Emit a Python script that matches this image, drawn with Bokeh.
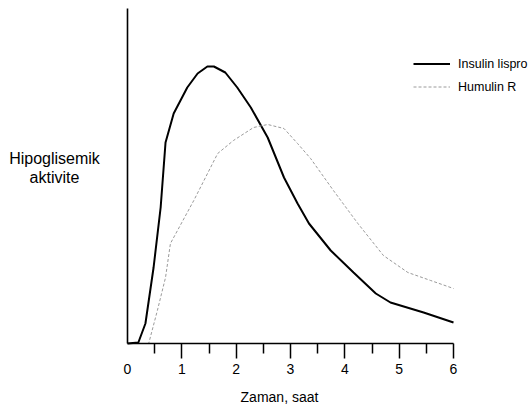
from bokeh.plotting import figure
from bokeh.models import FixedTicker, Label, Legend, LegendItem, Range1d, LinearAxis
from bokeh.embed import file_html
from bokeh.resources import INLINE

# Data (arbitrary activity units)
hours_lispro = [0.0, 0.2, 0.33, 0.48, 0.61, 0.70, 0.85, 1.1, 1.29, 1.47, 1.59, 1.80,
                2.02, 2.27, 2.58, 2.88, 3.13, 3.34, 3.74, 4.16, 4.57, 4.84, 5.45, 6.0]
activity_lispro = [0, 1, 20, 76, 136, 201, 230, 256, 270, 277, 277, 271,
                   256, 236, 206, 166, 140, 120, 93, 71, 50, 41, 31, 21]

hours_humulin = [0.0, 0.39, 0.55, 0.70, 0.79, 0.92, 1.22, 1.66, 1.95, 2.32, 2.58, 2.88,
                 3.13, 3.37, 3.79, 4.24, 4.71, 5.16, 5.58, 6.0]
activity_humulin = [0, 0, 33, 66, 100, 113, 143, 190, 203, 216, 219, 215,
                    200, 185, 153, 120, 88, 71, 63, 55]

x_tick_marks = [1, 2, 3, 4, 5, 6]          # labelled ticks with marks
x_origin_tick = [0]                         # labelled, no mark
x_minor_ticks = [0.5, 1.5, 2.5, 3.5, 4.5, 5.5]
legend_labels = ["Insulin lispro", "Humulin R"]
y_title_lines = ["Hipoglisemik", "aktivite"]
x_title = "Zaman, saat"
x_max = 6
y_max = 335

FONT = "Liberation Sans"
W, H = 531, 409
X0, X1 = 127, 453      # pixel position of hour 0 and hour 6
Y0 = 343               # pixel position of activity 0
pph = (X1 - X0) / 6.0

p = figure(width=W, height=H, output_backend="svg", toolbar_location=None,
           x_range=Range1d(-X0 / pph, (W - X0) / pph),
           y_range=Range1d(-(H - Y0), Y0),
           min_border_left=0, min_border_right=0, min_border_top=0, min_border_bottom=0)
p.grid.visible = False
p.outline_line_color = None
p.background_fill_color = "white"
p.border_fill_color = "white"

# x axis: line, tick marks (integers long, halves short) and labels 1..6
xa = p.xaxis[0]
xa.fixed_location = 0
xa.bounds = (0, x_max)
xa.ticker = FixedTicker(ticks=x_tick_marks, minor_ticks=x_minor_ticks)
xa.axis_line_color = "black"
xa.axis_line_width = 1.6
xa.major_tick_in = 0
xa.major_tick_out = 15
xa.minor_tick_in = 0
xa.minor_tick_out = 10
xa.major_tick_line_width = 1.5
xa.minor_tick_line_width = 1.5
xa.major_tick_line_color = "black"
xa.minor_tick_line_color = "black"
xa.major_label_text_font = FONT
xa.major_label_text_font_size = "14px"
xa.major_label_text_color = "black"
xa.major_label_standoff = 5

# x axis: label "0" at the origin, without a tick mark
xl = LinearAxis(fixed_location=0, bounds=(0, x_max),
                ticker=FixedTicker(ticks=x_origin_tick, minor_ticks=[]),
                axis_line_color=None, major_tick_line_color=None,
                minor_tick_line_color=None, major_tick_in=0, major_tick_out=15,
                minor_tick_in=0, minor_tick_out=10,
                major_label_text_font=FONT, major_label_text_font_size="14px",
                major_label_text_color="black", major_label_standoff=5)
p.add_layout(xl, "below")

ya = p.yaxis[0]
ya.fixed_location = 0
ya.bounds = (0, y_max)
ya.ticker = FixedTicker(ticks=[], minor_ticks=[])
ya.axis_line_color = "black"
ya.axis_line_width = 1.6
ya.major_tick_out = 0
ya.major_tick_in = 0
ya.minor_tick_out = 0
ya.minor_tick_in = 0

r1 = p.line(hours_lispro, activity_lispro, line_color="black", line_width=2)
r2 = p.line(hours_humulin, activity_humulin, line_color="#9a9a9a", line_width=1,
            line_dash="3 2")

legend = Legend(items=[LegendItem(label=legend_labels[0], renderers=[r1]),
                       LegendItem(label=legend_labels[1], renderers=[r2])],
                location=(413, 311), padding=0, margin=0, spacing=0,
                glyph_width=37, glyph_height=23, label_height=23, label_standoff=8,
                border_line_alpha=0, background_fill_alpha=0,
                label_text_font=FONT, label_text_font_size="12.5px",
                label_text_color="black")
p.add_layout(legend)

p.add_layout(Label(x=-1.344, y=185, text=y_title_lines[0], text_align="center",
                   text_baseline="alphabetic", text_font=FONT,
                   text_font_size="16px", text_color="black"))
p.add_layout(Label(x=-1.344, y=166, text=y_title_lines[1], text_align="center",
                   text_baseline="alphabetic", text_font=FONT,
                   text_font_size="16px", text_color="black"))
p.add_layout(Label(x=2.797, y=-53, text=x_title, text_align="center",
                   text_baseline="alphabetic", text_font=FONT,
                   text_font_size="14px", text_color="black"))

open("out.html", "w").write(file_html(p, INLINE))
